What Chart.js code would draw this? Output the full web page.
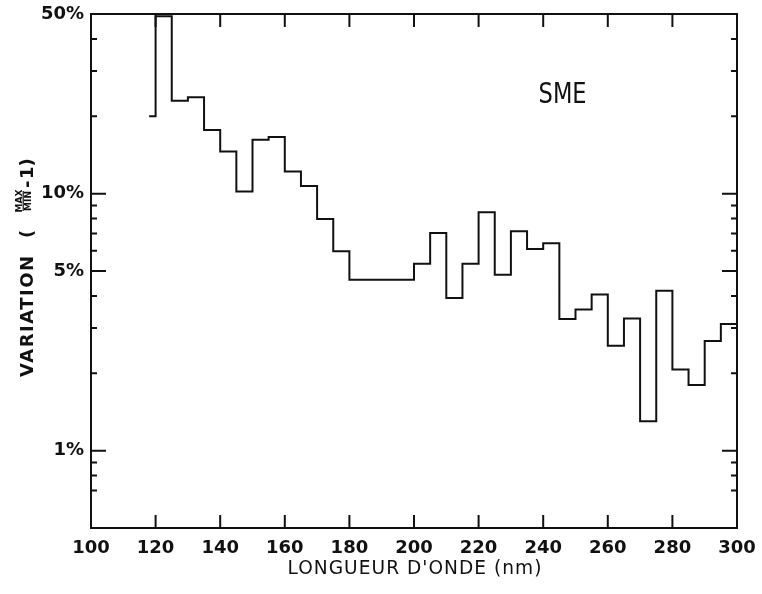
<!DOCTYPE html>
<html>
<head>
<meta charset="utf-8">
<script src="https://cdn.jsdelivr.net/npm/chart.js@4.4.1/dist/chart.umd.min.js"></script>
<style>
  html, body { margin: 0; padding: 0; background: #fff; }
</style>
</head>
<body>
<canvas id="smeChart" width="762" height="594"></canvas>
<script>
// Start of each 5 nm bin (nm); the last entry closes the last bin at 300 nm
const wavelengths = [118, 120, 125, 130, 135, 140, 145, 150, 155, 160, 165, 170, 175,
    180, 185, 190, 195, 200, 205, 210, 215, 220, 225, 230, 235, 240, 245, 250, 255,
    260, 265, 270, 275, 280, 285, 290, 295, 300];
// Variation (max/min - 1) in percent, one value per bin (last repeated for the closing point)
const variation = [20.0, 49.0, 23.0, 23.7, 17.7, 14.6, 10.2, 16.2, 16.6, 12.2, 10.7, 7.97, 5.97,
    4.62, 4.62, 4.62, 4.62, 5.33, 7.03, 3.93, 5.33, 8.46, 4.83, 7.14, 6.09, 6.41, 3.25, 3.54, 4.05,
    2.56, 3.27, 1.30, 4.19, 2.07, 1.80, 2.67, 3.11, 3.11];

const xTickLabels = [100, 120, 140, 160, 180, 200, 220, 240, 260, 280, 300];
const yTickLabels = [1, 5, 10, 50];
const yMinorTicks = [0.7, 0.8, 0.9, 2, 3, 4, 6, 7, 8, 9, 20, 30, 40];

const INK = '#111';
const TICK_FONT = { family: '"DejaVu Sans", sans-serif', size: 18, weight: 'bold' };

// draws text scaled horizontally so it spans the given width
function fitText(ctx, text, cx, baseline, width) {
    const w = ctx.measureText(text).width;
    ctx.save();
    ctx.translate(cx, baseline);
    ctx.scale(width / w, 1);
    ctx.textAlign = 'center';
    ctx.fillText(text, 0, 0);
    ctx.restore();
}

// Frame, inward ticks on all four sides, axis titles and the SME label
const framePlugin = {
    id: 'frame',
    afterDraw(chart) {
        const { ctx, chartArea: a, scales } = chart;
        const xs = scales.x, ys = scales.y;
        ctx.save();
        ctx.strokeStyle = INK;
        ctx.fillStyle = INK;
        ctx.lineWidth = 2;
        ctx.strokeRect(a.left, a.top, a.right - a.left, a.bottom - a.top);

        ctx.beginPath();
        xTickLabels.slice(1, -1).forEach(v => {
            const px = xs.getPixelForValue(v);
            ctx.moveTo(px, a.bottom); ctx.lineTo(px, a.bottom - 13);
            ctx.moveTo(px, a.top); ctx.lineTo(px, a.top + 13);
        });
        yTickLabels.slice(0, -1).forEach(v => {
            const py = ys.getPixelForValue(v);
            ctx.moveTo(a.left, py); ctx.lineTo(a.left + 15, py);
            ctx.moveTo(a.right, py); ctx.lineTo(a.right - 15, py);
        });
        yMinorTicks.forEach(v => {
            const py = ys.getPixelForValue(v);
            ctx.moveTo(a.left, py); ctx.lineTo(a.left + 6, py);
            ctx.moveTo(a.right, py); ctx.lineTo(a.right - 6, py);
        });
        ctx.stroke();

        // x axis title
        ctx.textBaseline = 'alphabetic';
        ctx.font = '20px "DejaVu Sans Condensed", "Liberation Sans Narrow", "DejaVu Sans", sans-serif';
        ctx.letterSpacing = '1px';
        fitText(ctx, "LONGUEUR D'ONDE (nm)", 415, 574, 255);
        ctx.letterSpacing = '0px';

        // SME label
        ctx.font = '28px "DejaVu Sans Condensed", "Liberation Sans Narrow", "DejaVu Sans", sans-serif';
        fitText(ctx, 'SME', xs.getPixelForValue(246), 103, 48);

        // y axis title, rotated, with the MAX/MIN fraction
        ctx.translate(33, 271);
        ctx.rotate(-Math.PI / 2);
        ctx.textAlign = 'left';
        ctx.font = 'bold 18px "DejaVu Sans", sans-serif';
        ctx.letterSpacing = '1.5px';
        ctx.fillText('VARIATION', -106, 0);
        ctx.letterSpacing = '0px';
        ctx.fillText('(', 33, 0);
        ctx.font = 'bold 9px "DejaVu Sans", sans-serif';
        ctx.textAlign = 'center';
        ctx.fillText('MAX', 70, -11.5);
        ctx.fillText('MIN', 70, -2.5);
        ctx.lineWidth = 1.2;
        ctx.beginPath();
        ctx.moveTo(60, -9.8); ctx.lineTo(80, -9.8);
        ctx.stroke();
        ctx.font = 'bold 18px "DejaVu Sans", sans-serif';
        ctx.textAlign = 'left';
        ctx.fillText('-', 83, 0);
        ctx.fillText('1)', 92, 0);
        ctx.restore();
    }
};

new Chart(document.getElementById('smeChart'), {
    type: 'line',
    data: {
        datasets: [{
            data: wavelengths.map((w, i) => ({ x: w, y: variation[i] })),
            stepped: 'before',
            borderColor: INK,
            borderWidth: 2,
            pointRadius: 0,
            fill: false
        }]
    },
    options: {
        responsive: false,
        animation: false,
        devicePixelRatio: 1,
        layout: { padding: { top: 14, right: 25, left: 0, bottom: 0 } },
        plugins: {
            legend: { display: false },
            tooltip: { enabled: false }
        },
        scales: {
            x: {
                type: 'linear',
                min: 100,
                max: 300,
                afterBuildTicks: scale => { scale.ticks = xTickLabels.map(v => ({ value: v })); },
                afterFit: scale => {
                    scale.height = 66;
                    scale.paddingLeft = 0;
                    scale.paddingRight = 0;
                },
                grid: { display: false, drawTicks: false },
                border: { display: false },
                ticks: {
                    autoSkip: false,
                    maxRotation: 0,
                    padding: 10,
                    color: INK,
                    font: TICK_FONT
                }
            },
            y: {
                type: 'logarithmic',
                min: 0.5,
                max: 50,
                afterBuildTicks: scale => { scale.ticks = yTickLabels.map(v => ({ value: v })); },
                afterFit: scale => {
                    scale.width = 91;
                    scale.paddingTop = 0;
                    scale.paddingBottom = 0;
                },
                grid: { display: false, drawTicks: false },
                border: { display: false },
                ticks: {
                    autoSkip: false,
                    padding: 7,
                    color: INK,
                    font: TICK_FONT,
                    callback: v => v + '%'
                }
            }
        }
    },
    plugins: [framePlugin]
});
</script>
</body>
</html>
